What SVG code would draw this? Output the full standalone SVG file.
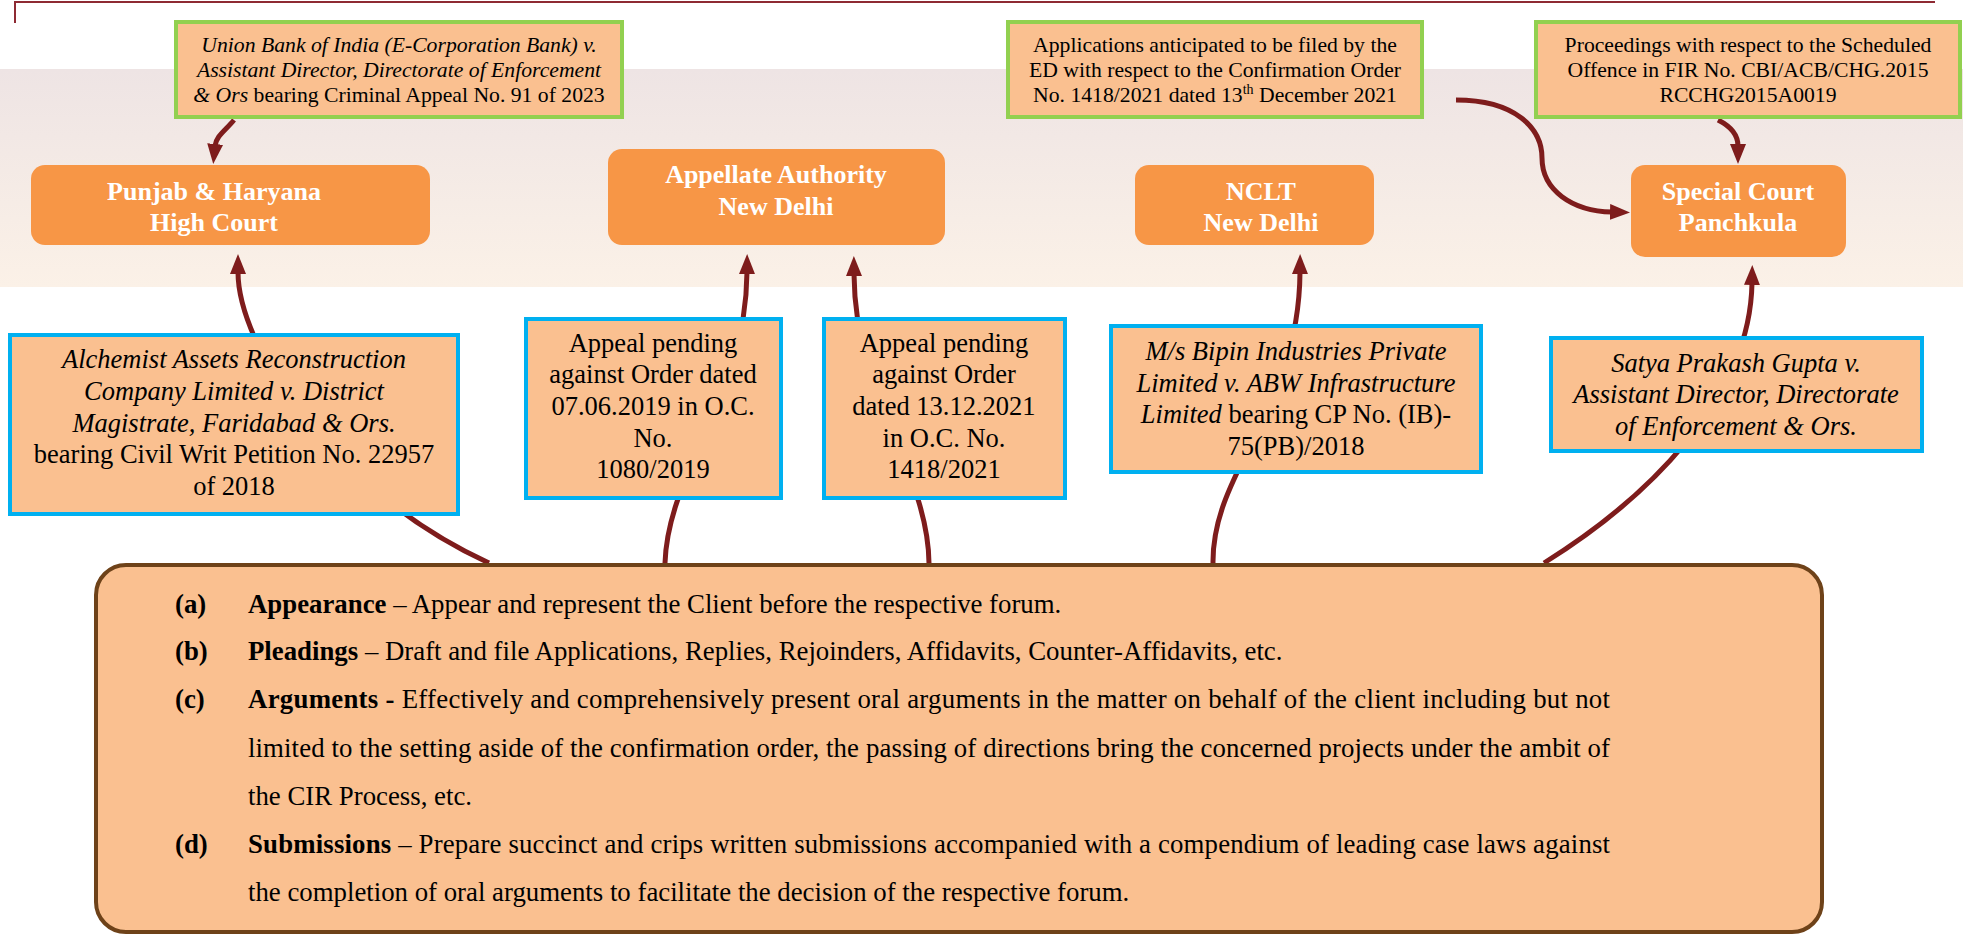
<svg xmlns="http://www.w3.org/2000/svg" width="1963" height="935" viewBox="0 0 1963 935">
<defs>
<linearGradient id="band" x1="0" y1="0" x2="0" y2="1">
<stop offset="0" stop-color="#EEE4E4"/>
<stop offset="1" stop-color="#FBF1E7"/>
</linearGradient>
<marker id="ah" markerUnits="userSpaceOnUse" viewBox="0 -8 20 16" markerWidth="20" markerHeight="16" refX="2" refY="0" orient="auto">
<path d="M0,-8 L20,0 L0,8 z" fill="#7E1C1C"/>
</marker>
<style>
.t{font-family:"Liberation Serif","Times New Roman",serif;fill:#000;}
.g{font-size:21.7px;text-anchor:middle;}
.b{font-size:26.5px;text-anchor:middle;}
.w{font-family:"Liberation Serif","Times New Roman",serif;font-size:26px;font-weight:bold;fill:#fff;text-anchor:middle;}
.m{font-size:26.8px;}
.i{font-style:italic;}
.bd{font-weight:bold;}
.gbox{fill:#FAC090;stroke:#92D050;stroke-width:4;}
.bbox{fill:#FAC090;stroke:#00B0F0;stroke-width:4;}
.node{fill:#F79646;}
.c{fill:none;stroke:#7E1C1C;stroke-width:5;}
</style>
</defs>
<rect x="0" y="69" width="1963" height="218" fill="url(#band)"/>
<path d="M15,23 V2 H1935" fill="none" stroke="#8E2A33" stroke-width="2"/>

<g id="connectors">
<path class="c" d="M234,120 C226,130 216,136 215,146" marker-end="url(#ah)"/>
<path class="c" d="M489,563 C330,490 238,345 238,272" marker-end="url(#ah)"/>
<path class="c" d="M665,563 C668,470 746,400 747,272" marker-end="url(#ah)"/>
<path class="c" d="M929,563 C928,470 855,400 854,274" marker-end="url(#ah)"/>
<path class="c" d="M1213,563 C1212,470 1299,410 1300,272" marker-end="url(#ah)"/>
<path class="c" d="M1544,563 C1645,500 1750,400 1752,283" marker-end="url(#ah)"/>
<path class="c" d="M1456,100 C1515,100 1542,128 1542,158 C1542,190 1572,211 1612,212" marker-end="url(#ah)"/>
<path class="c" d="M1718,120 C1730,126 1738,134 1738,146" marker-end="url(#ah)"/>
</g>

<g id="green-union-bank">
<rect class="gbox" x="176" y="22" width="446" height="95"/>
<text class="t g" x="399" y="52"><tspan class="i">Union Bank of India (E-Corporation Bank) v.</tspan></text>
<text class="t g" x="399" y="77"><tspan class="i">Assistant Director, Directorate of Enforcement</tspan></text>
<text class="t g" x="399" y="102"><tspan class="i">&amp; Ors</tspan> bearing Criminal Appeal No. 91 of 2023</text>
</g>

<g id="green-applications">
<rect class="gbox" x="1008" y="22" width="414" height="95"/>
<text class="t g" x="1215" y="52">Applications anticipated to be filed by the</text>
<text class="t g" x="1215" y="77">ED with respect to the Confirmation Order</text>
<text class="t g" x="1215" y="102">No. 1418/2021 dated 13<tspan font-size="14" dy="-8">th</tspan><tspan dy="8"> December 2021</tspan></text>
</g>

<g id="green-proceedings">
<rect class="gbox" x="1536" y="22" width="424" height="95"/>
<text class="t g" x="1748" y="52">Proceedings with respect to the Scheduled</text>
<text class="t g" x="1748" y="77">Offence in FIR No. CBI/ACB/CHG.2015</text>
<text class="t g" x="1748" y="102">RCCHG2015A0019</text>
</g>

<g id="node-punjab">
<rect class="node" x="31" y="165" width="399" height="80" rx="14"/>
<text class="w" x="214" y="200">Punjab &amp; Haryana</text>
<text class="w" x="214" y="231">High Court</text>
</g>

<g id="node-appellate">
<rect class="node" x="608" y="149" width="337" height="96" rx="14"/>
<text class="w" x="776" y="183">Appellate Authority</text>
<text class="w" x="776" y="215">New Delhi</text>
</g>

<g id="node-nclt">
<rect class="node" x="1135" y="165" width="239" height="80" rx="14"/>
<text class="w" x="1261" y="200">NCLT</text>
<text class="w" x="1261" y="231">New Delhi</text>
</g>

<g id="node-special-court">
<rect class="node" x="1631" y="165" width="215" height="92" rx="14"/>
<text class="w" x="1738" y="200">Special Court</text>
<text class="w" x="1738" y="231">Panchkula</text>
</g>

<g id="blue-alchemist">
<rect class="bbox" x="10" y="335" width="448" height="179"/>
<text class="t b i" x="234" y="368">Alchemist Assets Reconstruction</text>
<text class="t b i" x="234" y="400">Company Limited v. District</text>
<text class="t b i" x="234" y="432">Magistrate, Faridabad &amp; Ors.</text>
<text class="t b" x="234" y="463">bearing Civil Writ Petition No. 22957</text>
<text class="t b" x="234" y="495">of 2018</text>
</g>

<g id="blue-appeal-2019">
<rect class="bbox" x="526" y="319" width="255" height="179"/>
<text class="t b" x="653" y="352">Appeal pending</text>
<text class="t b" x="653" y="383">against Order dated</text>
<text class="t b" x="653" y="415">07.06.2019 in O.C.</text>
<text class="t b" x="653" y="447">No.</text>
<text class="t b" x="653" y="478">1080/2019</text>
</g>

<g id="blue-appeal-2021">
<rect class="bbox" x="824" y="319" width="241" height="179"/>
<text class="t b" x="944" y="352">Appeal pending</text>
<text class="t b" x="944" y="383">against Order</text>
<text class="t b" x="944" y="415">dated 13.12.2021</text>
<text class="t b" x="944" y="447">in O.C. No.</text>
<text class="t b" x="944" y="478">1418/2021</text>
</g>

<g id="blue-bipin">
<rect class="bbox" x="1111" y="326" width="370" height="146"/>
<text class="t b i" x="1296" y="360">M/s Bipin Industries Private</text>
<text class="t b i" x="1296" y="392">Limited v. ABW Infrastructure</text>
<text class="t b" x="1296" y="423"><tspan class="i">Limited</tspan> bearing CP No. (IB)-</text>
<text class="t b" x="1296" y="455">75(PB)/2018</text>
</g>

<g id="blue-satya">
<rect class="bbox" x="1551" y="338" width="371" height="113"/>
<text class="t b i" x="1736" y="372">Satya Prakash Gupta v.</text>
<text class="t b i" x="1736" y="403">Assistant Director, Directorate</text>
<text class="t b i" x="1736" y="435">of Enforcement &amp; Ors.</text>
</g>

<g id="scope-box">
<rect x="96" y="565" width="1726" height="367" rx="30" fill="#FAC090" stroke="#6E4219" stroke-width="4"/>
<text class="t m bd" x="175" y="613">(a)</text>
<text class="t m" x="248" y="613"><tspan class="bd">Appearance</tspan> – Appear and represent the Client before the respective forum.</text>
<text class="t m bd" x="175" y="660">(b)</text>
<text class="t m" x="248" y="660"><tspan class="bd">Pleadings</tspan> – Draft and file Applications, Replies, Rejoinders, Affidavits, Counter-Affidavits, etc.</text>
<text class="t m bd" x="175" y="708">(c)</text>
<text class="t m" x="248" y="708" textLength="1362" lengthAdjust="spacing"><tspan class="bd">Arguments -</tspan> Effectively and comprehensively present oral arguments in the matter on behalf of the client including but not</text>
<text class="t m" x="248" y="757" textLength="1362" lengthAdjust="spacing">limited to the setting aside of the confirmation order, the passing of directions bring the concerned projects under the ambit of</text>
<text class="t m" x="248" y="805">the CIR Process, etc.</text>
<text class="t m bd" x="175" y="853">(d)</text>
<text class="t m" x="248" y="853" textLength="1362" lengthAdjust="spacing"><tspan class="bd">Submissions</tspan> – Prepare succinct and crips written submissions accompanied with a compendium of leading case laws against</text>
<text class="t m" x="248" y="901">the completion of oral arguments to facilitate the decision of the respective forum.</text>
</g>
</svg>
